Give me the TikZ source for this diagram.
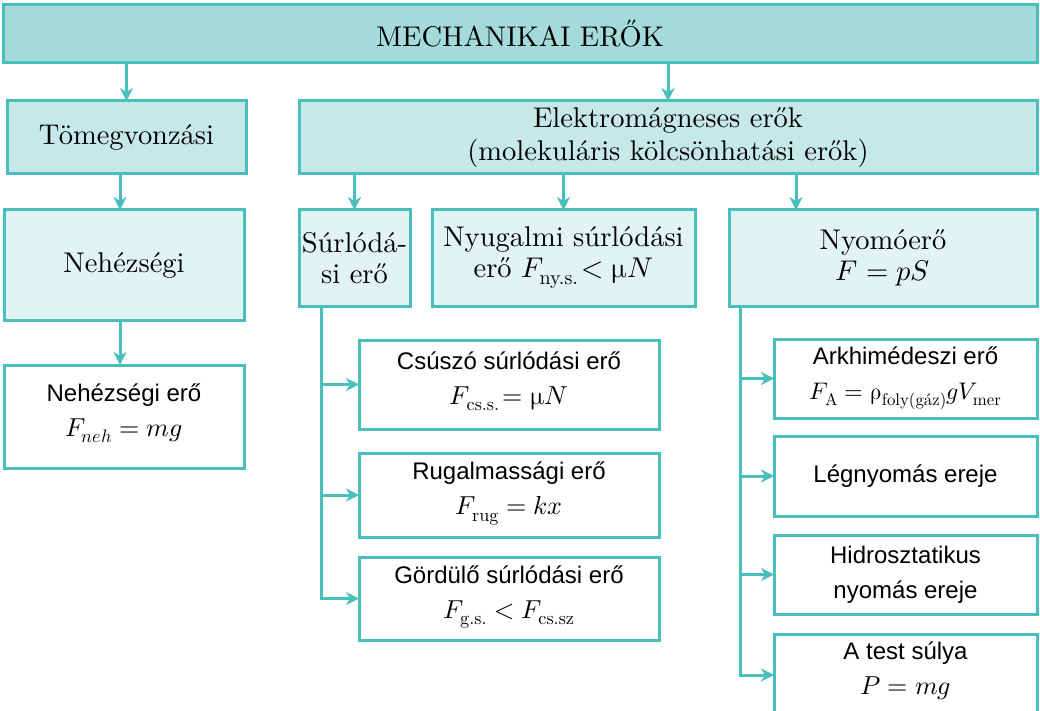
\documentclass[tikz,border=0pt]{standalone}
\usepackage{amsmath}
\usepackage{fontspec}
\usepackage{unicode-math}
\setmainfont{lmroman10-regular.otf}[ItalicFont=lmroman10-italic.otf,
  BoldFont=lmroman10-bold.otf]
\setmathfont{latinmodern-math.otf}
\newfontfamily\sansbetu{Liberation Sans}
\usetikzlibrary{arrows.meta}
\definecolor{keret}{HTML}{48BFBB}
\definecolor{szint1}{HTML}{A4DBDA}
\definecolor{szint2}{HTML}{C6E8E8}
\definecolor{szint3}{HTML}{E2F3F3}
\newcommand{\mely}{\rule[-13pt]{0pt}{13pt}}
\newcommand{\keplet}[1]{{\fontsize{26}{35}\selectfont$#1$\mely}}

\begin{document}
\begin{tikzpicture}[x=1pt,y=-1pt,
  doboz/.style={draw=keret, line width=3pt, anchor=north west,
    outer sep=0pt, inner sep=0pt, align=center},
  fo/.style={doboz, fill=szint1, font=\fontsize{28.5}{32}\selectfont},
  al/.style={doboz, fill=szint2, font=\fontsize{28.5}{33}\selectfont},
  alal/.style={doboz, fill=szint3, font=\fontsize{28.5}{31}\selectfont},
  feher/.style={doboz, fill=white, font=\sansbetu\fontsize{24}{35}\selectfont},
  nyil/.style={keret, line width=3pt, -{Stealth[length=13pt,width=13pt,inset=4pt]}}]
  \useasboundingbox (0,0) rectangle (1040,711);

  % felso szintek
  \node[fo, minimum width=1034, minimum height=58] (mech) at (3,5) {MECHANIKAI ERŐK};
  \node[al, minimum width=239, minimum height=73] (tomeg) at (7,101) {Tömegvonzási};
  \node[al, minimum width=738, minimum height=73] (elek) at (299,101)
    {Elektromágneses erők\\(molekuláris kölcsönhatási erők)};
  \node[alal, minimum width=240, minimum height=110] (nehez) at (4,210) {Nehézségi};
  \node[alal, minimum width=111, minimum height=96] (surl) at (299,210) {Súrlódá-\\si erő};
  \node[alal, minimum width=263, minimum height=96] (nyug) at (432,210)
    {Nyugalmi súrlódási\\erő $F_{\textrm{ny.s.}}\!<\upmu N$};
  \node[alal, minimum width=308, minimum height=96] (nyom) at (729,210) {Nyomóerő\\$F=pS$};

  % feher dobozok
  \node[feher, minimum width=240, minimum height=103] (nehero) at (4,365)
    {Nehézségi erő\\\keplet{F_{neh}=mg}};
  \node[feher, minimum width=300, minimum height=89] (csusz) at (359,340)
    {Csúszó súrlódási erő\\\keplet{F_{\textrm{cs.s.}}\!=\upmu N}};
  \node[feher, minimum width=300, minimum height=84] (rugal) at (359,453)
    {Rugalmassági erő\\\keplet{F_{\textrm{rug}}=kx}};
  \node[feher, minimum width=300, minimum height=83] (gord) at (359,557)
    {Gördülő súrlódási erő\\\keplet{F_{\textrm{g.s.}}<F_{\textrm{cs.sz}}}};
  \node[feher, minimum width=263, minimum height=79] (arkh) at (774,339)
    {Arkhimédeszi erő\\{\fontsize{24}{35}\selectfont
    $F_{\textrm{A}}=\uprho_{\textrm{foly(gáz)}}gV_{\textrm{mer}}$}};
  \node[feher, minimum width=263, minimum height=80] (legny) at (774,436) {Légnyomás ereje};
  \node[feher, minimum width=263, minimum height=79] (hidro) at (774,535)
    {Hidrosztatikus\\nyomás ereje};
  \node[feher, minimum width=263, minimum height=82] (suly) at (774,634)
    {A test súlya\\\keplet{P=mg}};

  % nyilak
  \coordinate (bal) at (120,0);
  \coordinate (jobb) at (796,0);
  \coordinate (sg) at (321,0);
  \coordinate (ng) at (740,0);
  \draw[nyil] (mech.south -| tomeg.north) -- (tomeg.north);
  \draw[nyil] (mech.south -| elek.north) -- (elek.north);
  \draw[nyil] (tomeg.south -| bal) -- (nehez.north -| bal);
  \draw[nyil] (nehez.south -| bal) -- (nehero.north -| bal);
  \draw[nyil] (elek.south -| surl.north) -- (surl.north);
  \draw[nyil] (elek.south -| nyug.north) -- (nyug.north);
  \draw[nyil] (elek.south -| jobb) -- (nyom.north -| jobb);

  % surlodasi ag
  \draw[nyil] (surl.south -| sg) |- (gord.west);
  \draw[nyil] (csusz.west -| sg) -- (csusz.west);
  \draw[nyil] (rugal.west -| sg) -- (rugal.west);

  % nyomoero ag
  \draw[nyil] (nyom.south -| ng) |- (suly.west);
  \foreach \d in {arkh,legny,hidro}
    \draw[nyil] (\d.west -| ng) -- (\d.west);
\end{tikzpicture}
\end{document}
